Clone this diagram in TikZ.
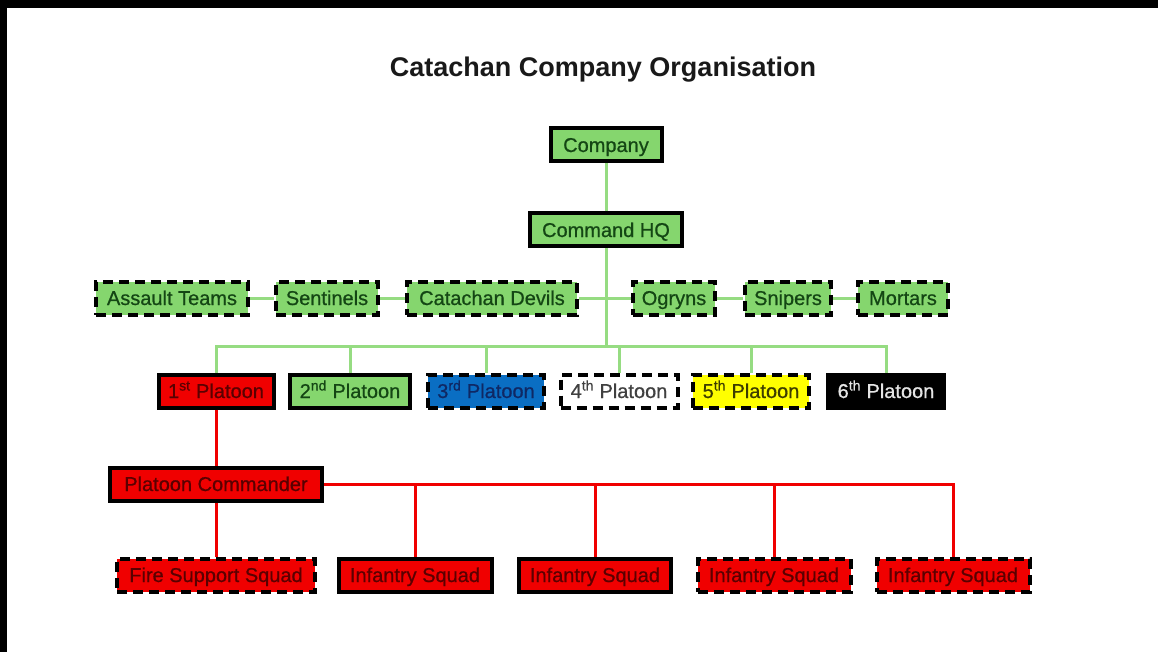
\documentclass[tikz,border=0pt]{standalone}
\usepackage{fontspec}
\setmainfont{Liberation Sans}
\newfontfamily\boxfont[FakeBold=0.7]{Liberation Sans}
\definecolor{cgreen}{RGB}{133,214,110}
\definecolor{cgreentext}{RGB}{20,70,20}
\definecolor{cgreenline}{RGB}{150,220,130}
\definecolor{cred}{RGB}{240,0,0}
\definecolor{credtext}{RGB}{90,0,0}
\definecolor{cblue}{RGB}{10,110,195}
\definecolor{cbluetext}{RGB}{15,40,100}
\definecolor{cyellow}{RGB}{255,255,0}
\definecolor{cyellowtext}{RGB}{60,60,0}
\begin{document}
\begin{tikzpicture}[x=1pt,y=-1pt,
  box/.style={draw=black, line width=4pt, inner sep=0pt, minimum height=33pt,
    text height=14pt, text depth=0pt,
    font=\boxfont\fontsize{20}{20}\selectfont},
  dashbox/.style={box, dash pattern=on 10pt off 6pt},
  grn/.style={fill=cgreen, text=cgreentext},
  rd/.style={fill=cred, text=credtext},
  gline/.style={draw=cgreenline, line width=3pt},
  rline/.style={draw=cred, line width=3pt}
]
% background
\fill[black] (0,0) rectangle (1158,652);
\fill[white] (7,8) rectangle (1158,652);
\useasboundingbox (0,0) rectangle (1158,652);

% title
\node[font=\bfseries\fontsize{27}{27}\selectfont, text=black!90] (title) at (603,70) {Catachan Company Organisation};

% top
\node[box, grn, minimum width=111pt] (company) at (606,145) {Company};
\node[box, grn, minimum width=152pt] (hq) at (606,230) {Command HQ};

% support row
\node[dashbox, grn, minimum width=152pt] (assault) at (172,298) {Assault Teams};
\node[dashbox, grn, minimum width=102pt] (sentinels) at (327,298) {Sentinels};
\node[dashbox, grn, minimum width=170pt] (devils) at (492,298) {Catachan Devils};
\node[dashbox, grn, minimum width=82pt] (ogryns) at (674,298) {Ogryns};
\node[dashbox, grn, minimum width=86pt] (snipers) at (788,298) {Snipers};
\node[dashbox, grn, minimum width=90pt] (mortars) at (903,298) {Mortars};

% platoons
\node[box, rd, minimum width=115pt] (p1) at (216,391) {1\textsuperscript{st} Platoon};
\node[box, grn, minimum width=120pt] (p2) at (350,391) {2\textsuperscript{nd} Platoon};
\node[dashbox, fill=cblue, text=cbluetext, minimum width=116pt] (p3) at (486,391) {3\textsuperscript{rd} Platoon};
\node[dashbox, fill=white, text=black!75, minimum width=117pt] (p4) at (619,391) {4\textsuperscript{th} Platoon};
\node[dashbox, fill=cyellow, text=cyellowtext, minimum width=116pt] (p5) at (751,391) {5\textsuperscript{th} Platoon};
\node[box, fill=black, text=white!90!black, minimum width=116pt] (p6) at (886,391) {6\textsuperscript{th} Platoon};

% platoon commander
\node[box, rd, minimum width=212pt] (pc) at (216,484) {Platoon Commander};

% squads
\node[dashbox, rd, minimum width=198pt] (sq1) at (216,575) {Fire Support Squad};
\node[box, rd, minimum width=153pt] (sq2) at (415,575) {Infantry Squad};
\node[box, rd, minimum width=152pt] (sq3) at (595,575) {Infantry Squad};
\node[dashbox, rd, minimum width=153pt] (sq4) at (774,575) {Infantry Squad};
\node[dashbox, rd, minimum width=153pt] (sq5) at (953,575) {Infantry Squad};

\coordinate (bus) at (606,346);

% green connectors
\path[gline] (company.south) -- (hq.north);
\path[gline] (hq.south) -- (hq.south |- bus);
\path[gline] (assault.east) -- (sentinels.west);
\path[gline] (sentinels.east) -- (devils.west);
\path[gline] (devils.east) -- (ogryns.west);
\path[gline] (ogryns.east) -- (snipers.west);
\path[gline] (snipers.east) -- (mortars.west);
\path[gline] (p1.north) -- (p1.north |- bus) -- (p6.north |- bus) -- (p6.north);
\path[gline] (p2.north) -- (p2.north |- bus);
\path[gline] (p3.north) -- (p3.north |- bus);
\path[gline] (p4.north) -- (p4.north |- bus);
\path[gline] (p5.north) -- (p5.north |- bus);

% red connectors
\path[rline] (p1.south) -- (pc.north);
\path[rline] (pc.south) -- (sq1.north);
\path[rline] (pc.east) -- (sq5.north |- pc.east) -- (sq5.north);
\path[rline] (sq2.north) -- (sq2.north |- pc.east);
\path[rline] (sq3.north) -- (sq3.north |- pc.east);
\path[rline] (sq4.north) -- (sq4.north |- pc.east);
\end{tikzpicture}
\end{document}
